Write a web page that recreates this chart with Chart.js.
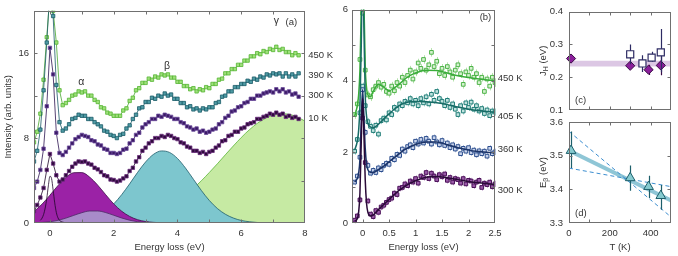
<!DOCTYPE html>
<html>
<head>
<meta charset="utf-8">
<script src="https://cdn.jsdelivr.net/npm/chart.js@4.4.1/dist/chart.umd.min.js"></script>
<style>
  html, body { margin: 0; padding: 0; background: #fff; }
  #wrap { position: relative; width: 678px; height: 256px; }
  canvas { position: absolute; left: 0; top: 0; }
</style>
</head>
<body>
<div id="wrap">
  <canvas id="pa" width="678" height="256"></canvas>
  <canvas id="pb" width="678" height="256"></canvas>
  <canvas id="pc" width="678" height="256"></canvas>
  <canvas id="pd" width="678" height="256"></canvas>
</div>
<script>
// ---- panel (a): RIXS spectra, energy loss in eV ----
const aE = [-0.5,-0.4,-0.3,-0.2,-0.1,0,0.1,0.2,0.3,0.4,0.5,0.6,0.7,0.8,0.9,1,1.1,1.2,1.3,1.4,1.5,1.6,1.7,1.8,1.9,2,2.1,2.2,2.3,2.4,2.5,2.6,2.7,2.8,2.9,3,3.1,3.2,3.3,3.4,3.5,3.6,3.7,3.8,3.9,4,4.1,4.2,4.3,4.4,4.5,4.6,4.7,4.8,4.9,5,5.1,5.2,5.3,5.4,5.5,5.6,5.7,5.8,5.9,6,6.1,6.2,6.3,6.4,6.5,6.6,6.7,6.8,6.9,7,7.1,7.2,7.3,7.4,7.5,7.6,7.7,7.8];
const a10K = [1.1,1.7,2.4,3.3,5.0, 6.5,5.6,4.5,3.9,4.1, 4.5,4.9,5.3,5.6,5.8, 5.75,5.8,5.6,5.5,5.2, 5.05,4.8,4.5,4.4,4.1, 4.05,3.9,4.0,4.2,4.4, 4.9,5.2,5.8,6.2,6.8, 7.1,7.5,7.7,8.0,8.0, 8.2,8.1,8.3,8.2,8.0, 7.9,7.6,7.5,7.2,7.1, 6.8,6.8,6.6,6.7,6.5, 6.7,6.8,7.1,7.3,7.7, 7.8,8.2,8.3,8.6,8.6, 8.9,9.0,9.3,9.4,9.5, 9.8,9.8,10.0,10.1,10.3, 10.2,10.4,10.2,10.3,10.0, 10.1,9.9,10.0,9.8];
const a300K = [3.3,3.9,5.0,7.0,11.0, 16.5,14.0,8.5,6.6,6.4, 6.7,7.1,7.5,7.9,8.1, 8.3,8.2,8.1,7.8,7.7, 7.4,7.3,7.0,6.9,6.6, 6.6,6.5,6.6,6.9,7.0, 7.5,7.8,8.3,8.5,9.0, 9.3,9.5,9.8,9.8,10.1, 10.0,10.2,10.1,10.0,9.8, 9.8,9.5,9.4,9.1,9.0, 8.8,8.9,8.6,8.7,8.5, 8.6,8.8,8.9,9.3,9.5, 9.9,10.1,10.5,10.6,10.9, 11.0,11.3,11.4,11.7,11.7, 12.0,12.0,12.2,12.3,12.4, 12.3,12.6,12.4,12.6,12.3, 12.4,12.1,12.2,11.9];
const a390K = [5.8,6.8,8.8,12.5,17.0, 22.0,19.5,13.0,9.5,8.7, 8.9,9.3,9.8,9.9,10.2, 10.1,10.1,9.8,9.8,9.5, 9.3,9.1,8.7,8.6,8.3, 8.2,8.0,8.3,8.4,8.9, 9.2,9.8,10.2,10.8,10.9, 11.4,11.4,11.8,11.7,12.0, 11.9,12.2,12.0,12.1,11.7, 11.7,11.3,11.3,10.9,11.0, 10.7,10.8,10.6,10.8,10.7, 10.9,10.9,11.3,11.4,11.9, 12.0,12.4,12.4,12.8,12.8, 13.1,13.1,13.4,13.3,13.6, 13.5,13.8,13.7,14.0,13.9, 14.1,14.0,14.1,13.8,14.1, 13.8,14.0,13.8,14.1];
const a450K = [7.6,8.6,10.3,13.5,17.5, 21.5,20.0,17.0,12.5,11.1, 11.3,11.6,12.0,12.1,12.4, 12.3,12.4,12.0,12.0,11.6, 11.4,10.9,10.8,10.4,10.3, 10.1,10.1,10.1,10.6,10.8, 11.5,11.8,12.5,12.7,13.2, 13.2,13.6,13.5,13.8,13.7, 14.0,13.9,14.0,13.7,13.7, 13.3,13.3,12.9,12.9,12.6, 12.7,12.4,12.6,12.5,12.8, 12.7,13.1,13.1,13.5,13.6, 14.1,14.1,14.5,14.5,14.9, 14.9,15.3,15.3,15.7,15.7, 16.0,15.9,16.2,16.1,16.4, 16.3,16.6,16.3,16.4,16.1, 16.1,15.8,16.0,15.8];

// elastic line (10 K)
const elE = [-0.3,-0.25,-0.2,-0.15,-0.1,-0.05,0,0.05,0.1,0.15,0.2,0.25,0.3,0.4,0.5];
const elI = [0.25,0.45,0.8,1.4,2.3,3.5,4.4,4.2,3.1,1.9,1.0,0.5,0.25,0.08,0.02];

// fitted components
const gE = [-0.5,-0.25,0,0.25,0.5,0.75,1,1.25,1.5,1.75,2,2.25,2.5,2.75,3,3.25,3.5,3.75,4,4.25,4.5,4.75,5,5.25,5.5,5.75,6,6.25,6.5,6.75,7,7.25,7.5,7.75,8];
const gAlpha = [1.08,1.77,2.62,3.52,4.29,4.74,4.75,4.31,3.56,2.66,1.80,1.11,0.62,0.31,0.14,0.06,0.02,0.01,0,0,0,0,0,0,0,0,0,0,0,0,0,0,0,0,0];
const gLav = [0.02,0.05,0.12,0.25,0.46,0.72,0.97,1.13,1.13,0.98,0.73,0.47,0.26,0.12,0.05,0.02,0.01,0,0,0,0,0,0,0,0,0,0,0,0,0,0,0,0,0,0];
const gBeta = [0,0,0,0.01,0.04,0.09,0.19,0.36,0.66,1.13,1.80,2.67,3.69,4.77,5.75,6.47,6.79,6.65,6.08,5.18,4.12,3.06,2.12,1.37,0.83,0.47,0.24,0.12,0.05,0.02,0.01,0,0,0,0];
const gGamma = [0,0,0,0,0.01,0.02,0.03,0.05,0.08,0.12,0.17,0.25,0.36,0.5,0.69,0.94,1.25,1.63,2.10,2.65,3.28,3.98,4.76,5.57,6.42,7.25,8.05,8.77,9.38,9.85,10.17,10.3,10.24,10.0,9.59];

const aLabels = ['450 K', '390 K', '300 K', '10 K'];
const aLabelAt = [15.75, 13.9, 12.05, 9.9];

// ---- panel (b): low-energy region ----
const bE = [-0.15,-0.1,-0.05,0,0.05,0.1,0.15,0.2,0.25,0.3,0.35,0.4,0.45,0.5,0.55,0.6,0.65,0.7,0.75,0.8,0.85,0.9,0.95,1,1.05,1.1,1.15,1.2,1.25,1.3,1.35,1.4,1.45,1.5,1.55,1.6,1.65,1.7,1.75,1.8,1.85,1.9,1.95,2,2.05,2.1,2.15,2.2,2.25,2.3,2.35,2.4,2.45,2.5];
const b300K = [0.08,0.2,0.65,2.95,1.7,0.62,0.25,0.18,0.35,0.3,0.45,0.5,0.58,0.66,0.7,0.84,0.8,0.98,1.0,1.1,1.05,1.18,1.15,1.25,1.12,1.32,1.28,1.42,1.25,1.4,1.32,1.22,1.36,1.3,1.38,1.2,1.28,1.15,1.25,1.22,1.12,1.25,1.1,1.2,1.18,1.05,1.15,1.2,1.0,1.12,1.08,1.15,1.02,1.1];
const b360K = [1.15,1.32,1.85,3.75,2.55,1.62,1.4,1.48,1.42,1.55,1.5,1.62,1.68,1.65,1.82,1.78,1.93,1.9,2.08,2.02,2.15,2.2,2.12,2.3,2.22,2.35,2.25,2.38,2.3,2.22,2.4,2.28,2.2,2.32,2.18,2.25,2.12,2.2,2.08,2.15,1.95,2.1,2.02,2.12,1.98,2.05,1.92,2.03,1.95,2.02,1.88,2.1,1.95,2.0];
const b405K = [2.02,2.35,3.1,3.85,3.3,2.85,2.72,2.6,2.75,2.5,2.88,2.95,2.9,3.1,3.05,3.25,3.2,3.35,3.3,3.42,3.38,3.5,3.35,3.45,3.3,3.5,3.38,3.55,3.35,3.62,3.45,3.7,3.5,3.42,3.3,3.45,3.25,3.35,3.2,3.05,3.3,3.15,3.38,3.25,3.4,3.2,3.3,3.15,3.22,3.08,3.18,3.02,3.15,3.12];
const b450K = [3.05,3.35,4.6,5.9,4.3,3.6,3.55,3.75,3.85,3.95,3.82,3.9,3.7,3.65,3.85,3.72,3.95,3.85,4.1,3.95,4.15,4.3,4.05,4.25,4.5,4.35,4.6,4.3,4.45,4.8,4.4,4.55,4.2,4.35,4.15,4.4,4.25,4.1,4.3,4.45,4.2,3.9,4.25,4.15,4.35,4.1,4.2,3.95,4.1,3.7,4.05,3.85,4.1,3.95];
const bErr = [0.09, 0.09, 0.1, 0.12];

const bFitE = [-0.15,-0.1,-0.075,-0.05,-0.025,0,0.025,0.05,0.075,0.1,0.15,0.2,0.3,0.4,0.5,0.6,0.7,0.8,0.9,1,1.2,1.4,1.6,1.8,2,2.2,2.5];
const bFit300 = [0.05,0.12,0.3,0.85,2.3,3.5,2.5,1.2,0.55,0.3,0.2,0.22,0.38,0.52,0.66,0.8,0.93,1.03,1.12,1.19,1.29,1.31,1.27,1.22,1.17,1.13,1.08];
const bFit360 = [1.15,1.25,1.4,1.8,2.9,3.75,3.0,2.1,1.65,1.5,1.42,1.42,1.5,1.6,1.72,1.84,1.96,2.07,2.15,2.21,2.28,2.28,2.2,2.12,2.05,2.01,1.97];
const bFit405 = [2.05,2.3,2.6,3.3,5.0,7.5,5.5,3.6,3.0,2.8,2.7,2.68,2.78,2.93,3.07,3.2,3.31,3.38,3.41,3.42,3.41,3.38,3.33,3.26,3.2,3.16,3.12];
const bFit450 = [3.0,3.3,3.6,4.3,6.0,8.5,6.3,4.4,3.8,3.6,3.55,3.7,3.9,3.82,3.72,3.8,3.92,4.05,4.15,4.22,4.3,4.29,4.22,4.14,4.09,4.05,4.0];

const bLabels = ['450 K', '405 K', '360 K', '300 K'];
const bLabelAt = [4.06, 3.0, 2.06, 0.92];

// ---- panel (c): J_H vs T ----
const cSqT = [300, 360, 405, 450];
const cSqJ = [0.270, 0.242, 0.260, 0.276];
const cSqLo = [0.240, 0.216, 0.247, 0.215];
const cSqHi = [0.300, 0.267, 0.278, 0.347];
const cDiT = [10, 300, 390, 450];
const cDiJ = [0.257, 0.235, 0.223, 0.236];
const cDiLo = [0.247, 0.225, 0.207, 0.206];
const cDiHi = [0.267, 0.245, 0.238, 0.262];
const cBandT = [0, 500];
const cBandHi = [0.250, 0.250];
const cBandLo = [0.233, 0.233];

// ---- panel (d): E_beta vs T ----
const dT = [10, 300, 390, 450];
const dE = [3.515, 3.434, 3.408, 3.381];
const dLo = [3.463, 3.396, 3.374, 3.339];
const dHi = [3.572, 3.471, 3.440, 3.413];
const dFitT = [0, 500];
const dFit = [3.515, 3.367];
const dUpT = [0, 500];
const dUp = [3.572, 3.318];
const dLowT = [0, 500];
const dLow = [3.463, 3.408];

const FONT = "'Liberation Sans', Arial, sans-serif";
Chart.defaults.font.family = FONT;
Chart.defaults.font.size = 9.5;
Chart.defaults.color = '#333';
Chart.defaults.animation = false;
Chart.defaults.events = [];
Chart.defaults.plugins.legend.display = false;
Chart.defaults.plugins.tooltip.enabled = false;

const pts = (xs, ys) => xs.map((x, i) => ({ x: x, y: ys[i] }));

// box + inward ticks on all four sides
const frame = {
  id: 'frame',
  afterDatasetsDraw(chart) {
    const { ctx, chartArea: a } = chart;
    const { x, y } = chart.scales;
    const L = Math.round(a.left) + 0.5, R = Math.round(a.right) - 0.5;
    const T = Math.round(a.top) + 0.5, B = Math.round(a.bottom) - 0.5;
    ctx.save();
    ctx.strokeStyle = '#707070';
    ctx.lineWidth = 1;
    ctx.beginPath();
    x.ticks.forEach(t => {
      if (t.value <= x.min + 1e-9 || t.value >= x.max - 1e-9) return;
      const px = Math.round(x.getPixelForValue(t.value)) + 0.5;
      ctx.moveTo(px, B); ctx.lineTo(px, B - 3);
      ctx.moveTo(px, T); ctx.lineTo(px, T + 3);
    });
    y.ticks.forEach(t => {
      if (t.value <= y.min + 1e-9 || t.value >= y.max - 1e-9) return;
      const py = Math.round(y.getPixelForValue(t.value)) + 0.5;
      ctx.moveTo(L, py); ctx.lineTo(L + 3, py);
      ctx.moveTo(R, py); ctx.lineTo(R - 3, py);
    });
    ctx.stroke();
    ctx.strokeRect(L, T, R - L, B - T);
    ctx.restore();
  }
};

// vertical error bars, drawn just before each dataset's markers
const errBars = {
  id: 'errBars',
  beforeDatasetDraw(chart, args) {
    const ds = chart.data.datasets[args.index];
    if (!ds.errColor) return;
    const { ctx } = chart;
    const { x, y } = chart.scales;
    ctx.save();
    ctx.strokeStyle = ds.errColor;
    ctx.lineWidth = ds.errWidth || 1;
    ctx.beginPath();
    ds.data.forEach((p, i) => {
      const lo = ds.errLo ? ds.errLo[i] : p.y - ds.errPlus;
      const hi = ds.errHi ? ds.errHi[i] : p.y + ds.errPlus;
      const px = Math.round(x.getPixelForValue(p.x)) + 0.5;
      ctx.moveTo(px, y.getPixelForValue(lo));
      ctx.lineTo(px, y.getPixelForValue(hi));
    });
    ctx.stroke();
    ctx.restore();
  }
};

function notes(items) {
  return {
    id: 'notes',
    afterDraw(chart) {
      const { ctx } = chart;
      const { x, y } = chart.scales;
      ctx.save();
      ctx.fillStyle = '#333';
      ctx.textBaseline = 'middle';
      items.forEach(n => {
        ctx.font = (n.size || 9.5) + 'px ' + FONT;
        ctx.textAlign = n.align || 'center';
        ctx.fillText(n.text, x.getPixelForValue(n.x), y.getPixelForValue(n.y));
      });
      ctx.restore();
    }
  };
}

// rotated y title with a subscript
function sideTitle(parts) {
  return {
    id: 'sideTitle',
    afterDraw(chart) {
      const { ctx, chartArea: a } = chart;
      const big = '9.5px ' + FONT, small = '7px ' + FONT;
      ctx.save();
      let w = 0;
      parts.forEach(p => { ctx.font = p.sub ? small : big; p.w = ctx.measureText(p.t).width; w += p.w; });
      ctx.translate(a.left - 26, (a.top + a.bottom) / 2);
      ctx.rotate(-Math.PI / 2);
      ctx.fillStyle = '#333';
      ctx.textBaseline = 'middle';
      ctx.textAlign = 'left';
      let cx = -w / 2;
      parts.forEach(p => { ctx.font = p.sub ? small : big; ctx.fillText(p.t, cx, p.sub ? 3 : 0); cx += p.w; });
      ctx.restore();
    }
  };
}

function xAxis(min, max, step, h, label, title) {
  return {
    type: 'linear', min: min, max: max,
    afterFit: s => { s.height = h; },
    grid: { display: false, drawTicks: false }, border: { display: false },
    ticks: { stepSize: step, includeBounds: false, padding: 5, autoSkip: false, maxRotation: 0,
      display: !!label, callback: label || (() => '') },
    title: { display: !!title, text: title || '', padding: { top: 0, bottom: 3 } }
  };
}
function yAxis(min, max, step, w, pad, label, title) {
  return {
    type: 'linear', min: min, max: max,
    afterFit: s => { s.width = w; },
    grid: { display: false, drawTicks: false }, border: { display: false },
    ticks: { stepSize: step, includeBounds: false, padding: pad, autoSkip: false, callback: label },
    title: { display: !!title, text: title || '', padding: { top: 3, bottom: 0 } }
  };
}
const near = (v, m) => Math.abs(v / m - Math.round(v / m)) < 1e-6;

// ---------- panel (a) ----------
const markA = (ys, bg, bd, ln) => ({
  data: pts(aE, ys), showLine: true, borderColor: ln, borderWidth: 0.8,
  pointStyle: 'rect', pointRadius: 2.4, pointBackgroundColor: bg, pointBorderColor: bd, pointBorderWidth: 0.8
});
const fillA = (ys, bg, bd) => ({
  data: pts(gE, ys), showLine: true, fill: 'origin', backgroundColor: bg, borderColor: bd,
  borderWidth: 0.8, pointRadius: 0, cubicInterpolationMode: 'monotone'
});

new Chart(document.getElementById('pa'), {
  type: 'scatter',
  data: { datasets: [
    markA(a10K, '#2e0b3c', '#6b2d7c', '#1e0628'),
    markA(a300K, '#3b1a66', '#6c4b9c', '#2c1450'),
    markA(a390K, '#4f9ba5', '#1b5b67', '#1b5b67'),
    markA(a450K, '#9ee07a', '#55b534', '#48a82e'),
    { data: pts(elE, elI), showLine: true, borderColor: '#1e0628', borderWidth: 0.8, pointRadius: 0, cubicInterpolationMode: 'monotone' },
    fillA(gLav, '#a88bc9', '#4d2a66'),
    fillA(gAlpha, '#9b22a6', '#3d0b48'),
    fillA(gBeta, '#7dc6ce', '#1f5d6b'),
    fillA(gGamma, '#c6eaa3', '#5db63a')
  ] },
  options: {
    responsive: false,
    layout: { padding: { left: 0, top: 7, right: 373, bottom: 0 } },
    scales: {
      x: xAxis(-0.5, 8, 1, 33, v => (near(v, 2) ? String(v) : ''), 'Energy loss (eV)'),
      y: yAxis(0, 20, 4, 34, 5, v => (near(v, 8) ? String(v) : ''), 'Intensity (arb. units)')
    }
  },
  plugins: [errBars, frame, notes([
    { text: 'α', x: 0.98, y: 13.3, size: 10.5 },
    { text: 'β', x: 3.67, y: 14.8, size: 10.5 },
    { text: 'γ', x: 7.1, y: 19.0, size: 10.5 },
    { text: '(a)', x: 7.57, y: 18.9 }
  ].concat(aLabels.map((t, i) => ({ text: t, x: 8.1, y: aLabelAt[i], align: 'left' }))))]
});

// ---------- panel (b) ----------
const markB = (ys, err, bg, bd, ec) => ({
  data: pts(bE, ys), showLine: false, pointStyle: 'rect', pointRadius: 2.6,
  pointBackgroundColor: bg, pointBorderColor: bd, pointBorderWidth: 1,
  errPlus: err, errColor: ec, errWidth: 1
});
const fitB = (ys, c) => ({
  data: pts(bFitE, ys), showLine: true, borderColor: c, borderWidth: 1.5, pointRadius: 0, cubicInterpolationMode: 'monotone'
});

new Chart(document.getElementById('pb'), {
  type: 'scatter',
  data: { datasets: [
    fitB(bFit300, '#2a0a38'),
    fitB(bFit360, '#1c3468'),
    fitB(bFit405, '#176b66'),
    fitB(bFit450, '#3aad3a'),
    markB(b300K, bErr[0], '#9a5aa8', '#4a1058', '#c6a3cf'),
    markB(b360K, bErr[1], '#c9d4ec', '#2d4f8e', '#aab9d9'),
    markB(b405K, bErr[2], '#bfe3df', '#1f7c76', '#9fd1cb'),
    markB(b450K, bErr[3], '#d5f2cf', '#4db348', '#b5e3ac')
  ] },
  options: {
    responsive: false,
    layout: { padding: { left: 320, top: 7, right: 183, bottom: 0 } },
    scales: {
      x: xAxis(-0.2, 2.5, 0.5, 33, v => (near(v, 0.5) ? String(v) : ''), 'Energy loss (eV)'),
      y: yAxis(0, 6, 1, 32, 4, v => (near(v, 2) ? String(v) : ''))
    }
  },
  plugins: [errBars, frame, notes([
    { text: '(b)', x: 2.32, y: 5.78 }
  ].concat(bLabels.map((t, i) => ({ text: t, x: 2.55, y: bLabelAt[i], align: 'left' }))))]
});

// ---------- panel (c) ----------
new Chart(document.getElementById('pc'), {
  type: 'scatter',
  data: { datasets: [
    { data: pts(cSqT, cSqJ), pointStyle: 'rect', pointRadius: 5, pointBackgroundColor: '#fff',
      pointBorderColor: '#2d2b63', pointBorderWidth: 1.2, clip: false,
      errLo: cSqLo, errHi: cSqHi, errColor: '#2d2b63', errWidth: 1.2 },
    { data: pts(cDiT, cDiJ), pointStyle: 'rectRot', pointRadius: 4.6, pointBackgroundColor: '#8b1f9b',
      pointBorderColor: '#3a0a45', pointBorderWidth: 1, clip: false,
      errLo: cDiLo, errHi: cDiHi, errColor: '#3a0a45', errWidth: 1.2 },
    { data: pts(cBandT, cBandHi), showLine: true, borderWidth: 0, pointRadius: 0, fill: '+1', backgroundColor: '#dcc7e4' },
    { data: pts(cBandT, cBandLo), showLine: true, borderWidth: 0, pointRadius: 0, fill: false }
  ] },
  options: {
    responsive: false,
    layout: { padding: { left: 535, top: 8, right: 7, bottom: 146 } },
    scales: {
      x: xAxis(0, 500, 100, 0, null, null),
      y: yAxis(0.1, 0.4, 0.1, 34, 6, v => v.toFixed(1))
    }
  },
  plugins: [errBars, frame, sideTitle([{ t: 'J' }, { t: 'H', sub: true }, { t: ' (eV)' }]),
    notes([{ text: '(c)', x: 30, y: 0.128, align: 'left' }])]
});

// ---------- panel (d) ----------
new Chart(document.getElementById('pd'), {
  type: 'scatter',
  data: { datasets: [
    { data: pts(dT, dE), pointStyle: 'triangle', pointRadius: 5.6, pointBackgroundColor: '#86cbd0',
      pointBorderColor: '#1d5f6b', pointBorderWidth: 1, clip: false,
      errLo: dLo, errHi: dHi, errColor: '#1d5f6b', errWidth: 1.2 },
    { data: pts(dUpT, dUp), showLine: true, borderColor: '#3b8dcf', borderWidth: 1, borderDash: [4, 3], pointRadius: 0 },
    { data: pts(dLowT, dLow), showLine: true, borderColor: '#3b8dcf', borderWidth: 1, borderDash: [4, 3], pointRadius: 0 },
    { data: pts(dFitT, dFit), showLine: true, borderColor: '#8fc6d6', borderWidth: 4, pointRadius: 0 }
  ] },
  options: {
    responsive: false,
    layout: { padding: { left: 535, top: 122, right: 7, bottom: 0 } },
    scales: {
      x: xAxis(0, 500, 100, 33, v => (near(v, 200) ? String(v) : ''), 'T (K)'),
      y: yAxis(3.3, 3.6, 0.1, 34, 6, v => v.toFixed(1))
    }
  },
  plugins: [errBars, frame, sideTitle([{ t: 'E' }, { t: 'β', sub: true }, { t: ' (eV)' }]),
    notes([{ text: '(d)', x: 30, y: 3.33, align: 'left' }])]
});
</script>
</body>
</html>
